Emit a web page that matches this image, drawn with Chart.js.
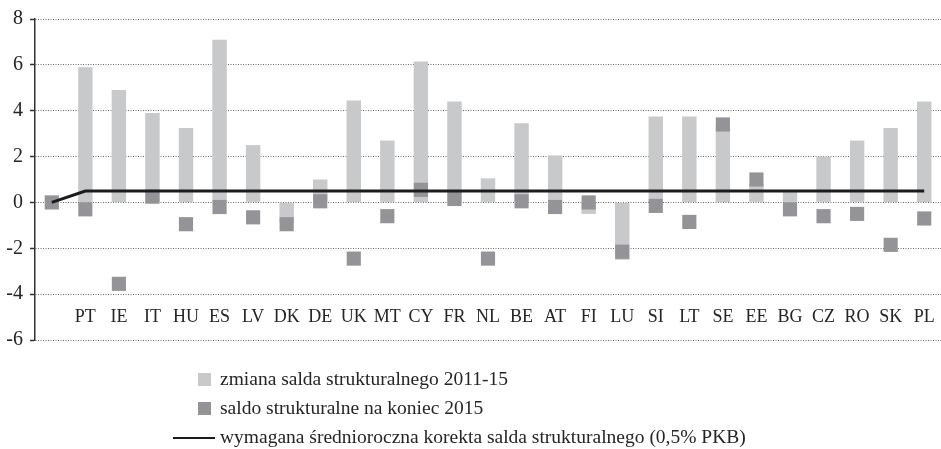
<!DOCTYPE html>
<html>
<head>
<meta charset="utf-8">
<script src="https://cdn.jsdelivr.net/npm/chart.js@4.4.1/dist/chart.umd.min.js"></script>
<style>
  body { margin: 0; background: #fff; }
  #wrap { width: 941px; height: 449px; }
</style>
</head>
<body>
<div id="wrap"><canvas id="saldoChart"></canvas></div>
<script>
// Kategorie (pierwsza pusta - punkt startowy linii)
const countries = ['', 'PT', 'IE', 'IT', 'HU', 'ES', 'LV', 'DK', 'DE', 'UK', 'MT', 'CY', 'FR', 'NL',
  'BE', 'AT', 'FI', 'LU', 'SI', 'LT', 'SE', 'EE', 'BG', 'CZ', 'RO', 'SK', 'PL'];

// zmiana salda strukturalnego 2011-15
const changeValues = [null, 5.9, 4.9, 3.9, 3.25, 7.1, 2.5, -0.9, 1.0, 4.45, 2.7, 6.15, 4.4, 1.05,
  3.45, 2.05, -0.5, -2.5, 3.75, 3.75, 3.3, 0.8, 0.5, 2.0, 2.7, 3.25, 4.4];

// saldo strukturalne na koniec 2015
const endValues = [0, -0.3, -3.55, 0.25, -0.95, -0.2, -0.65, -0.95, 0.05, -2.45, -0.6, 0.55, 0.15, -2.45,
  0.05, -0.2, 0, -2.15, -0.15, -0.85, 3.4, 1.0, -0.3, -0.6, -0.5, -1.85, -0.7];

// wymagana korekta (0,5% PKB)
const requiredValues = [0, 0.5, 0.5, 0.5, 0.5, 0.5, 0.5, 0.5, 0.5, 0.5, 0.5, 0.5, 0.5, 0.5,
  0.5, 0.5, 0.5, 0.5, 0.5, 0.5, 0.5, 0.5, 0.5, 0.5, 0.5, 0.5, 0.5];

const yTicks = [-6, -4, -2, 0, 2, 4, 6, 8];

const seriesLabels = [
  'zmiana salda strukturalnego 2011-15',
  'saldo strukturalne na koniec 2015',
  'wymagana średnioroczna korekta salda strukturalnego (0,5% PKB)'
];

const FONT = "'Liberation Serif', 'DejaVu Serif', serif";
const LIGHT = '#c8c9cb';
const DARK = '#949498';
const LINE = '#1c1c1c';

// etykiety krajów rysowane wewnątrz wykresu, nad linią -6
const countryLabels = {
  id: 'countryLabels',
  afterDatasetsDraw(chart) {
    const { ctx, scales: { x, y } } = chart;
    ctx.save();
    ctx.font = '18px ' + FONT;
    ctx.fillStyle = '#252525';
    ctx.textAlign = 'center';
    ctx.textBaseline = 'alphabetic';
    const yPos = y.getPixelForValue(-6) - 18;
    countries.forEach((c, i) => {
      if (c) ctx.fillText(c, x.getPixelForValue(i), yPos);
    });
    ctx.restore();
  }
};

// legenda w jednej kolumnie pod wykresem
const stackedLegend = {
  id: 'stackedLegend',
  afterDraw(chart) {
    const ctx = chart.ctx;
    const rows = [380, 409, 438];
    ctx.save();
    ctx.font = '19.5px ' + FONT;
    ctx.textBaseline = 'middle';
    ctx.textAlign = 'left';
    // kolejnosc w legendzie: slupki, kwadraty, linia
    const items = [
      { text: seriesLabels[0], kind: 'box', color: LIGHT },
      { text: seriesLabels[1], kind: 'box', color: DARK },
      { text: seriesLabels[2], kind: 'line', color: LINE }
    ];
    items.forEach((it, i) => {
      const cy = rows[i];
      if (it.kind === 'box') {
        ctx.fillStyle = it.color;
        ctx.fillRect(198, cy - 7, 13, 13);
      } else {
        ctx.strokeStyle = it.color;
        ctx.lineWidth = 2;
        ctx.beginPath();
        ctx.moveTo(173, cy);
        ctx.lineTo(215, cy);
        ctx.stroke();
      }
      ctx.fillStyle = '#252525';
      ctx.fillText(it.text, 220, cy);
    });
    ctx.restore();
  }
};

const ctx = document.getElementById('saldoChart').getContext('2d');
const saldoChart = new Chart(ctx, {
  type: 'bar',
  data: {
    labels: countries,
    datasets: [
      {
        type: 'line',
        label: seriesLabels[2],
        data: requiredValues,
        borderColor: LINE,
        borderWidth: 3,
        pointRadius: 0,
        tension: 0,
        fill: false,
        order: 0
      },
      {
        type: 'line',
        label: seriesLabels[1],
        data: endValues,
        showLine: false,
        pointStyle: 'rect',
        pointRadius: 10,
        pointBorderWidth: 0,
        pointBackgroundColor: DARK,
        pointBorderColor: DARK,
        order: 1
      },
      {
        type: 'bar',
        label: seriesLabels[0],
        data: changeValues,
        backgroundColor: LIGHT,
        borderWidth: 0,
        barPercentage: 0.43,
        categoryPercentage: 1,
        order: 2
      }
    ]
  },
  options: {
    responsive: true,
    maintainAspectRatio: false,
    animation: false,
    layout: {
      autoPadding: false,
      padding: { top: 18, right: 0, bottom: 109, left: 0 }
    },
    plugins: {
      legend: { display: false },
      tooltip: { enabled: false }
    },
    scales: {
      x: {
        display: false,
        offset: true
      },
      y: {
        min: -6,
        max: 8,
        afterBuildTicks(scale) {
          scale.ticks = yTicks.map(v => ({ value: v }));
        },
        afterFit(scale) {
          scale.width = 35;
        },
        ticks: {
          font: { family: FONT, size: 20 },
          color: '#252525',
          padding: 7
        },
        grid: {
          color: '#6a6a6a',
          lineWidth: 1,
          tickLength: 5,
          tickColor: '#333',
          tickWidth: 1.5,
          tickBorderDash: []
        },
        border: {
          display: true,
          color: '#333',
          width: 1.5,
          dash: [1, 1.5]
        }
      }
    }
  },
  plugins: [countryLabels, stackedLegend]
});
</script>
</body>
</html>
